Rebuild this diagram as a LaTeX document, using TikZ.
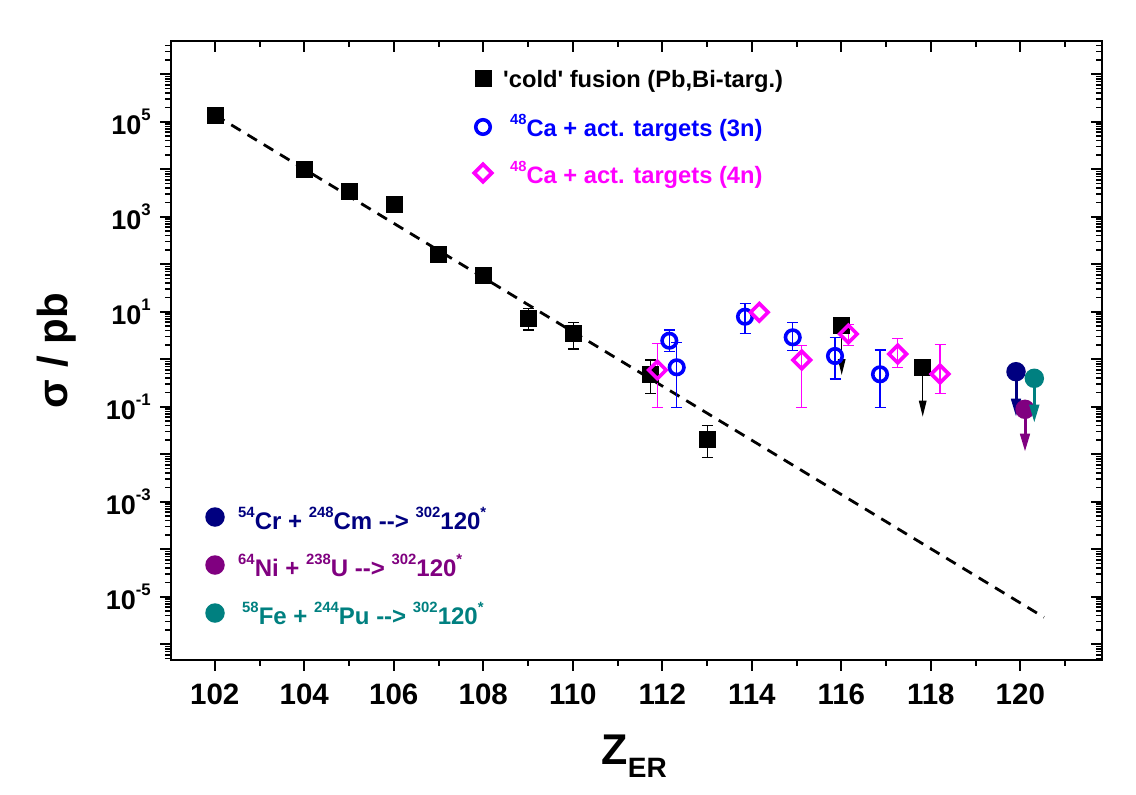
\documentclass[tikz,border=0pt]{standalone}
\usepackage{fontspec}
\setmainfont{Liberation Sans}[UprightFont={Liberation Sans}, BoldFont={Liberation Sans Bold}, ItalicFont={Liberation Sans Italic}, BoldItalicFont={Liberation Sans Bold Italic}]
\usetikzlibrary{arrows.meta,shapes.geometric}
\definecolor{mag}{RGB}{255,0,255}
\definecolor{bl}{RGB}{0,0,255}
\definecolor{nvy}{RGB}{0,0,128}
\definecolor{purp}{RGB}{128,0,128}
\definecolor{tealc}{RGB}{0,128,128}
\newcommand\supx[1]{\raisebox{0.5em}{\scalebox{0.62}{#1}}}
\newcommand\ebar[4]{\draw[#4, line width=1.3pt] (#1-5.5,#2) -- (#1+5.5,#2) (#1,#2) -- (#1,#3) (#1-5.5,#3) -- (#1+5.5,#3);}
\begin{document}
\begin{tikzpicture}[x=1pt,y=-1pt,
  tk/.style={line width=2pt},
  xl/.style={anchor=base, font=\fontsize{29.5}{29.5}\selectfont\bfseries\upshape, inner sep=0},
  yl/.style={anchor=east, font=\fontsize{27}{27}\selectfont\bfseries\upshape, inner sep=0},
  lt/.style={anchor=base west, font=\fontsize{23.7}{23.7}\selectfont\bfseries\upshape, inner sep=0},
  lb/.style={anchor=base west, font=\fontsize{24}{24}\selectfont\bfseries\upshape, inner sep=0},
  sq/.style={rectangle, fill=black, minimum size=17pt, inner sep=0},
  oc/.style={circle, draw=bl, line width=3.6pt, minimum size=14.5pt, inner sep=0},
  od/.style={diamond, draw=mag, line width=3.6pt, minimum size=19pt, inner sep=0},
  fc/.style={circle, minimum size=19.5pt, inner sep=0},
  carr/.style={line width=3pt, -{Triangle[width=9.5pt,length=18pt]}},
  barr/.style={line width=1.3pt, -{Triangle[width=7.5pt,length=16pt]}}]
\useasboundingbox[fill=white] (0,0) rectangle (1136,795);

% ---- ticks x
\foreach \z in {102,104,...,120} {
  \pgfmathsetmacro\xx{214.8+(\z-102)*44.75}
  \draw[tk] (\xx,660) -- (\xx,671);
  \draw[tk] (\xx,41) -- (\xx,52);
  \node[xl] at (\xx,704) {\z};
}
\foreach \z in {103,105,...,121} {
  \pgfmathsetmacro\xx{214.8+(\z-102)*44.75}
  \draw[tk] (\xx,660) -- (\xx,666);
  \draw[tk] (\xx,41) -- (\xx,47);
}
% ---- ticks y
\foreach \n in {-6,...,6} {
  \pgfmathsetmacro\yy{359.2-47.5*\n}
  \draw[tk] (160,\yy) -- (171,\yy);
  \draw[tk] (1091,\yy) -- (1102,\yy);
}
\foreach \n in {-7,...,6} {
  \foreach \k in {2,...,9} {
    \pgfmathsetmacro\yy{359.2-47.5*(\n+log10(\k))}
    \pgfmathtruncatemacro\ok{and(\yy>42,\yy<659)}
    \ifnum\ok=1
      \draw[line width=1.6pt] (165,\yy) -- (171,\yy);
      \draw[line width=1.6pt] (1096,\yy) -- (1102,\yy);
    \fi
  }
}
\foreach \n in {-5,-3,-1,1,3,5} {
  \pgfmathsetmacro\yy{359.2-47.5*\n}
  \node[yl] at (151,\yy) {10\supx{\n}};
}
\draw[line width=2.5pt] (171,41) rectangle (1102,660);

% ---- axis labels
\node[rotate=90, font=\fontsize{42}{42}\selectfont\bfseries\upshape] (ylab) at (57,350.5) {σ / pb};
\node[anchor=base west, inner sep=0, font=\fontsize{43}{43}\selectfont\bfseries\upshape] (xlab) at (601.5,764) {Z{\fontsize{28}{28}\selectfont\raisebox{-13pt}{ER}}};

% ---- fit line
\coordinate (f1) at (215,115);
\coordinate (f2) at (1044,617.3);
\draw[line width=2.8pt, dash pattern=on 11pt off 8pt] (f1) -- (f2);

% ---- error bars
\ebar{528.3}{308.3}{330}{black}
\ebar{573.3}{322.3}{349}{black}
\ebar{650.7}{360}{393.3}{black}
\ebar{707.3}{425.7}{457.3}{black}
\ebar{669.3}{330}{351.7}{bl}
\ebar{676.7}{342.3}{407.3}{bl}
\ebar{745}{303.3}{333.3}{bl}
\ebar{792.7}{322.7}{350.7}{bl}
\ebar{835}{337.3}{379}{bl}
\ebar{880}{350}{407.3}{bl}
\ebar{657.3}{343.3}{407.3}{mag}
\ebar{801.7}{345.7}{407.3}{mag}
\ebar{848.3}{324.3}{345.7}{mag}
\ebar{897.7}{338.3}{367.3}{mag}
\ebar{940}{344.3}{393.3}{mag}

% ---- cold fusion squares
\node[sq] (s102) at (215,115) {};
\node[sq] (s104) at (304,169.3) {};
\node[sq] (s105) at (349.3,191.7) {};
\node[sq] (s106) at (394,204.3) {};
\node[sq] (s107) at (438.3,254) {};
\node[sq] (s108) at (483.3,275) {};
\node[sq] (s109) at (528.3,318.3) {};
\node[sq] (s110) at (573.3,333.3) {};
\node[sq] (s112) at (650.7,374) {};
\node[sq] (s113) at (707.3,439) {};
\node[sq] (s116) at (841.7,325) {};
\node[sq] (s118) at (922.7,367.3) {};
\coordinate (t116) at (841.7,375);
\coordinate (t118) at (922.7,416.7);
\draw[barr] (s116.south) -- (t116);
\draw[barr] (s118.south) -- (t118);

% ---- 48Ca 3n circles
\node[oc] (c1) at (669.3,340.7) {};
\node[oc] (c2) at (676.7,367.3) {};
\node[oc] (c3) at (745,316.7) {};
\node[oc] (c4) at (792.7,337.3) {};
\node[oc] (c5) at (835,356) {};
\node[oc] (c6) at (880,374.3) {};

% ---- 48Ca 4n diamonds
\node[od] (d1) at (657.3,370) {};
\node[od] (d2) at (759.3,312.3) {};
\node[od] (d3) at (801.7,360) {};
\node[od] (d4) at (848.3,334) {};
\node[od] (d5) at (897.7,354) {};
\node[od] (d6) at (940,374) {};

% ---- Z=120 upper limits
\node[fc, fill=nvy] (cr) at (1016,371.7) {};
\coordinate (tcr) at (1016,416.7);
\draw[carr, nvy] (cr.center) -- (tcr);
\node[fc, fill=purp] (ni) at (1025,409.3) {};
\node[fc, fill=tealc] (fe) at (1034.3,378.3) {};
\coordinate (tfe) at (1034.3,422.7);
\draw[carr, tealc] (fe.center) -- (tfe);
\coordinate (tni) at (1025,451.7);
\draw[carr, purp] (ni.center) -- (tni);

% ---- legend top
\node[sq] (ls) at (483,78) {};
\node[lt] (lst) at (503,87.7) {\textquotesingle cold\textquotesingle\ fusion (Pb,Bi-targ.)};
\node[oc] (lc) at (483,127) {};
\node[lt, text=bl] (lct) at (510,136) {\supx{48}Ca + act. targets (3n)};
\node[od] (ld) at (483,173) {};
\node[lt, text=mag] (ldt) at (510,183.3) {\supx{48}Ca + act. targets (4n)};

% ---- legend bottom
\node[fc, fill=nvy] (lcr) at (215,517) {};
\node[lb, text=nvy] (lcrt) at (238,529.3) {\supx{54}Cr + \supx{248}Cm -{}-{}> \supx{302}120\supx{*}};
\node[fc, fill=purp] (lni) at (215,565) {};
\node[lb, text=purp] (lnit) at (238,576.7) {\supx{64}Ni + \supx{238}U -{}-{}> \supx{302}120\supx{*}};
\node[fc, fill=tealc] (lfe) at (215,613) {};
\node[lb, text=tealc] (lfet) at (242,624) {\supx{58}Fe + \supx{244}Pu -{}-{}> \supx{302}120\supx{*}};
\end{tikzpicture}
\end{document}
